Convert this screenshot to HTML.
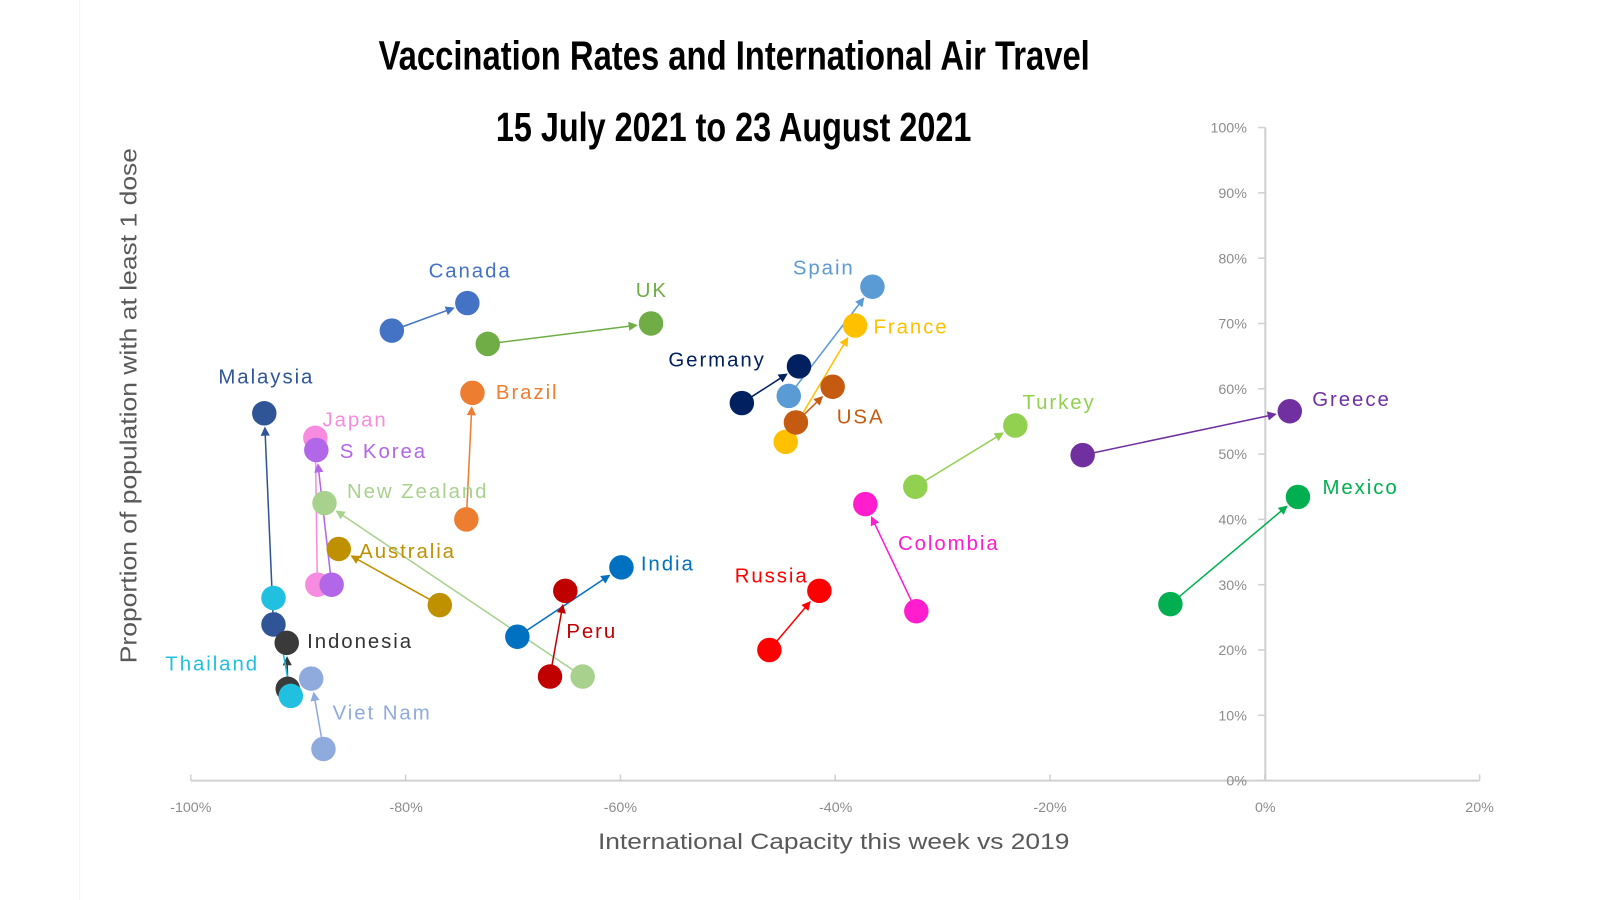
<!DOCTYPE html>
<html><head><meta charset="utf-8"><style>
html,body{margin:0;padding:0;background:#fff;}
svg{display:block;}
.l{font-family:"Liberation Sans",sans-serif;font-size:20px;letter-spacing:1.9px;}
.t{font-family:"Liberation Sans",sans-serif;font-size:14px;fill:#8c8c8c;}
.ti{font-family:"Liberation Sans Narrow","Liberation Sans",sans-serif;font-weight:bold;font-size:40px;fill:#000;}
</style></head><body>
<svg id="s" width="1600" height="900" viewBox="0 0 1568 882" xmlns="http://www.w3.org/2000/svg">
<line x1="78" y1="0" x2="78" y2="882" stroke="#f2f2f2" stroke-width="1"/>
<text class="ti" x="371" y="68" textLength="697" lengthAdjust="spacingAndGlyphs">Vaccination Rates and International Air Travel</text>
<text class="ti" x="486" y="138" textLength="466" lengthAdjust="spacingAndGlyphs">15 July 2021 to 23 August 2021</text>
<g stroke="#d0d0d0" stroke-width="2" fill="none">
<line x1="187" y1="765" x2="1450" y2="765"/>
<line x1="1240" y1="125" x2="1240" y2="765"/>
</g>
<g id="ticks" stroke="#d0d0d0" stroke-width="1.5"></g>
<g class="t" text-anchor="middle">
<text x="187" y="796">-100%</text><text x="398" y="796">-80%</text><text x="608" y="796">-60%</text><text x="819" y="796">-40%</text><text x="1029" y="796">-20%</text><text x="1240" y="796">0%</text><text x="1450" y="796">20%</text>
</g>
<g class="t" text-anchor="end">
<text x="1222" y="130">100%</text><text x="1222" y="194">90%</text><text x="1222" y="258">80%</text><text x="1222" y="322">70%</text><text x="1222" y="386">60%</text><text x="1222" y="450">50%</text><text x="1222" y="514">40%</text><text x="1222" y="578">30%</text><text x="1222" y="642">20%</text><text x="1222" y="706">10%</text><text x="1222" y="770">0%</text>
</g>
<text x="586" y="832" textLength="462" lengthAdjust="spacingAndGlyphs" style="font-family:'Liberation Sans',sans-serif;font-size:22px;fill:#595959">International Capacity this week vs 2019</text>
<text transform="translate(134,650) rotate(-90)" textLength="505" lengthAdjust="spacingAndGlyphs" style="font-family:'Liberation Sans',sans-serif;font-size:23px;fill:#595959">Proportion of population with at least 1 dose</text>
<g id="data"></g>
<g class="l">
<text x="420" y="272" fill="#4472c4">Canada</text>
<text x="623" y="291" fill="#70ad47">UK</text>
<text x="777" y="269" fill="#5b9bd5">Spain</text>
<text x="856" y="327" fill="#ffc000">France</text>
<text x="655" y="359" fill="#002060">Germany</text>
<text x="214" y="376" fill="#2f5597">Malaysia</text>
<text x="486" y="391" fill="#ed7d31">Brazil</text>
<text x="820" y="415" fill="#c55a11">USA</text>
<text x="1002" y="401" fill="#92d050">Turkey</text>
<text x="1286" y="398" fill="#7030a0">Greece</text>
<text x="316" y="418" fill="#f78be0">Japan</text>
<text x="333" y="449" fill="#b266e8">S Korea</text>
<text x="340" y="488" fill="#a9d18e">New Zealand</text>
<text x="1296" y="484" fill="#00b050">Mexico</text>
<text x="880" y="539" fill="#ff1dce">Colombia</text>
<text x="352" y="547" fill="#bf9000">Australia</text>
<text x="628" y="559" fill="#0070c0">India</text>
<text x="720" y="571" fill="#ff0000">Russia</text>
<text x="555" y="625" fill="#c00000">Peru</text>
<text x="301" y="635" fill="#333333">Indonesia</text>
<text x="162" y="657" fill="#21c0e0">Thailand</text>
<text x="326" y="705" fill="#8faadc">Viet Nam</text>
</g>
</svg>
<script>
var NS="http://www.w3.org/2000/svg";
var tk=document.getElementById("ticks");
function ln(p,a){var e=document.createElementNS(NS,"line");for(var k in a)e.setAttribute(k,a[k]);p.appendChild(e);return e;}
for(var i=0;i<7;i++){var x=187+i*(1263/6);ln(tk,{x1:x,y1:759,x2:x,y2:765});}
for(var j=0;j<=10;j++){var y=125+j*64;ln(tk,{x1:1233,y1:y,x2:1240,y2:y});}
var D=[
["#4472c4",384,324,458,297],["#70ad47",478,337,638,317],["#2f5597",268,612,259,405],
["#f78be0",311,573,309,429],["#b266e8",325,573,310,441],["#a9d18e",571,663,318,493],
["#bf9000",431,593,332,538],["#ed7d31",457,509,463,385],
["#3a3a3a",282,675,281,630],["#21c0e0",285,682,268,586],["#8faadc",317,734,305,665],["#0070c0",507,624,609,556],
["#c00000",539,663,554,579],["#ff0000",754,637,803,579],["#ff1dce",898,599,848,494],
["#002060",727,395,783,359],["#5b9bd5",773,388,855,281],["#ffc000",770,433,838,319],
["#c55a11",780,414,816,379],["#92d050",897,477,995,417],["#7030a0",1061,446,1264,403],
["#00b050",1147,592,1272,487]];
var g=document.getElementById("data");var r=12;
D.forEach(function(d){
 var dx=d[3]-d[1],dy=d[4]-d[2],L=Math.sqrt(dx*dx+dy*dy),ux=dx/L,uy=dy/L;
 var ex=d[3]-ux*(r+1),ey=d[4]-uy*(r+1);
 ln(g,{x1:d[1],y1:d[2],x2:ex-ux*6,y2:ey-uy*6,stroke:d[0],"stroke-width":1.5});
 var px=-uy,py=ux,p=document.createElementNS(NS,"polygon");
 p.setAttribute("points",ex+","+ey+" "+(ex-ux*9+px*4.5)+","+(ey-uy*9+py*4.5)+" "+(ex-ux*9-px*4.5)+","+(ey-uy*9-py*4.5));
 p.setAttribute("fill",d[0]);g.appendChild(p);
});
D.forEach(function(d){
 [[d[1],d[2]],[d[3],d[4]]].forEach(function(c){var e=document.createElementNS(NS,"circle");e.setAttribute("cx",c[0]);e.setAttribute("cy",c[1]);e.setAttribute("r",r);e.setAttribute("fill",d[0]);g.appendChild(e);});
});
</script>
</body></html>
